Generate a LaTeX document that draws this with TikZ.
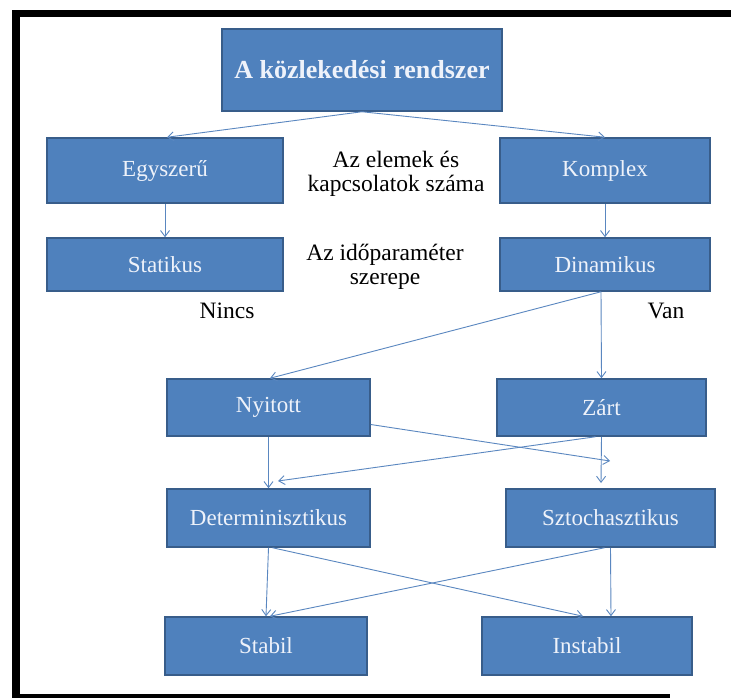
\documentclass[tikz,border=0pt]{standalone}
\usepackage{fontspec}
\setmainfont{Liberation Serif}
\newfontfamily\lserif{Liberation Serif}
\usetikzlibrary{arrows.meta,calc}
\definecolor{boxfill}{HTML}{4F81BD}
\definecolor{boxline}{HTML}{385D8A}
\definecolor{boxtext}{HTML}{EEF2FA}
\definecolor{conn}{HTML}{5A87C0}
\tikzset{
  bx/.style={draw=boxline, line width=1.5pt, fill=boxfill, text=boxtext, inner sep=0pt,
    font=\lserif\fontsize{23}{26}\selectfont},
  sidetxt/.style={text=black, inner sep=0pt, font=\lserif\fontsize{23.5}{27}\selectfont},
  cn/.style={draw=conn, line width=0.9pt, -{Straight Barb[length=6pt,width=9pt]}},
}
\begin{document}
\begin{tikzpicture}[x=1pt,y=-1pt]
\useasboundingbox (0,0) rectangle (731,698);
\fill[white] (0,0) rectangle (731,698);
% frame
\fill[black] (12,10) rectangle (731,17);
\fill[black] (12,10) rectangle (20,698);
\fill[black] (12,694) rectangle (670,698);

% boxes
\node[bx, minimum width=280pt, minimum height=82pt, font=\lserif\bfseries\fontsize{26}{30}\selectfont] (top) at (362,70) {A közlekedési rendszer};
\node[bx, minimum width=236pt, minimum height=65pt] (egy) at (165,170.5) {Egyszerű};
\node[bx, minimum width=210pt, minimum height=65pt] (kom) at (605,170.5) {Komplex};
\node[bx, minimum width=236pt, minimum height=53pt] (stat) at (165,264.5) {Statikus};
\node[bx, minimum width=210pt, minimum height=53pt] (din) at (605,264.5) {Dinamikus};
\node[bx, minimum width=203pt, minimum height=57pt] (nyi) at (268.5,407.5) {Nyitott};
\node[bx, minimum width=209pt, minimum height=57pt] (zart) at (601.5,407.5) {Zárt};
\node[bx, minimum width=203pt, minimum height=58pt] (det) at (268.5,518) {Determinisztikus};
\node[bx, minimum width=209pt, minimum height=58pt] (szt) at (610.5,518) {Sztochasztikus};
\node[bx, minimum width=202pt, minimum height=58pt] (stab) at (266,646) {Stabil};
\node[bx, minimum width=210pt, minimum height=58pt] (inst) at (587,646) {Instabil};

% side texts
\node[sidetxt] (t1) at (396,159) {Az elemek és};
\node[sidetxt] (t2) at (396,186) {kapcsolatok száma};
\node[sidetxt] (t3) at (385,255) {Az időparaméter};
\node[sidetxt] (t4) at (385,281) {szerepe};
\node[sidetxt] (nincs) at (227,311) {Nincs};
\node[sidetxt] (van) at (666,311) {Van};

% free ends
\coordinate (endA) at (610,461);
\coordinate (endB) at (278,481);
\coordinate (endC) at (601,483);

% connectors
\draw[cn] (top.south) -- ([xshift=2pt]egy.north);
\draw[cn] (top.south) -- (kom.north);
\draw[cn] (egy.south) -- (stat.north);
\draw[cn] (kom.south) -- (din.north);
\draw[cn] ([xshift=-4pt]din.south) -- ([xshift=1.5pt]nyi.north);
\draw[cn] ([xshift=-4pt]din.south) -- (zart.north);
\draw[cn] ([yshift=-17pt]nyi.east) -- (endA);
\draw[cn] ([xshift=-6pt]zart.south) -- (endB);
\draw[cn] (zart.south) -- (endC);
\draw[cn] (nyi.south) -- (det.north);
\draw[cn] (det.south) -- (stab.north);
\draw[cn] ([xshift=4pt]det.south) -- ([xshift=-4pt]inst.north);
\draw[cn] ([xshift=-6pt]szt.south) -- ([xshift=4pt]stab.north);
\draw[cn] (szt.south) -- ([xshift=24pt]inst.north);
\end{tikzpicture}
\end{document}
